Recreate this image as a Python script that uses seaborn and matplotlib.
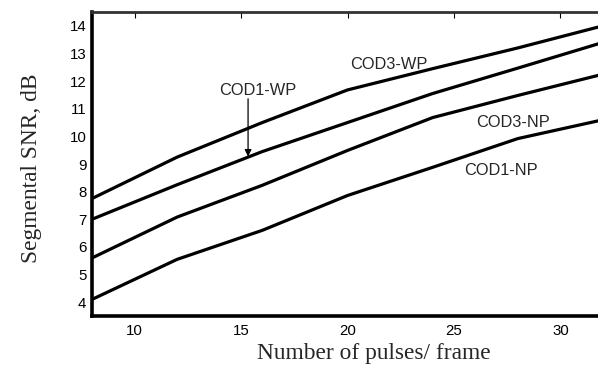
import matplotlib
matplotlib.use("Agg")
import matplotlib.pyplot as plt
import seaborn as sns
import pandas as pd

pulses = [8, 12, 16, 20, 24, 28, 32]
cod3_wp = [7.75, 9.25, 10.5, 11.68, 12.45, 13.2, 14.0]
cod1_wp = [7.0, 8.25, 9.45, 10.5, 11.55, 12.47, 13.4]
cod3_np = [5.6, 7.08, 8.23, 9.49, 10.68, 11.48, 12.25]
cod1_np = [4.1, 5.55, 6.6, 7.86, 8.88, 9.92, 10.6]
series_names = ["COD3-WP", "COD1-WP", "COD3-NP", "COD1-NP"]
xticks = [10, 15, 20, 25, 30]
yticks = [4, 5, 6, 7, 8, 9, 10, 11, 12, 13, 14]

rows = []
for name, vals in zip(series_names, [cod3_wp, cod1_wp, cod3_np, cod1_np]):
    for x, y in zip(pulses, vals):
        rows.append({"pulses": x, "snr": y, "series": name})
df = pd.DataFrame(rows)

sns.set_style("white")
plt.rcParams["font.family"] = ["Liberation Sans", "DejaVu Sans"]

fig = plt.figure(figsize=(5.98, 3.65), dpi=100)
ax = fig.add_axes([92/598, 1-316/365, (603-92)/598, (316-12)/365])

sns.lineplot(data=df, x="pulses", y="snr", hue="series",
             palette={n: "black" for n in series_names},
             linewidth=2.3, legend=False, ax=ax)

ax.set_xlim(8, 32)
ax.set_ylim(3.5, 14.5)
ax.set_xticks(xticks)
ax.set_yticks(yticks)
ax.tick_params(axis="both", direction="in", length=4, width=0.8,
               labelsize=10.8, colors="black", top=True, right=False, pad=4)
ax.tick_params(axis="x", pad=6)

for s in ["left", "bottom"]:
    ax.spines[s].set_linewidth(2.6)
    ax.spines[s].set_color("black")
ax.spines["top"].set_linewidth(2.0)
ax.spines["top"].set_color("#333333")
ax.spines["right"].set_visible(False)

ax.set_xlabel("Number of pulses/ frame", fontfamily="Liberation Serif",
              fontsize=16.8)
ax.xaxis.set_label_coords(0.552, -0.09)
ax.set_ylabel("Segmental SNR, dB", fontfamily="Liberation Serif",
              fontsize=16.8)
ax.yaxis.set_label_coords(-0.098, 0.485)

ax.text(15.8, 11.65, "COD1-WP", ha="center", va="center", fontsize=11.8)
ax.annotate("", xy=(15.33, 9.27), xytext=(15.33, 11.36),
            arrowprops=dict(arrowstyle="-|>", lw=0.9, color="black",
                            mutation_scale=10, shrinkA=0, shrinkB=0))
ax.text(21.94, 12.6, "COD3-WP", ha="center", va="center", fontsize=11.8)
ax.text(27.77, 10.5, "COD3-NP", ha="center", va="center", fontsize=11.8)
ax.text(27.2, 8.77, "COD1-NP", ha="center", va="center", fontsize=11.8)

fig.savefig("out.png", dpi=100)
